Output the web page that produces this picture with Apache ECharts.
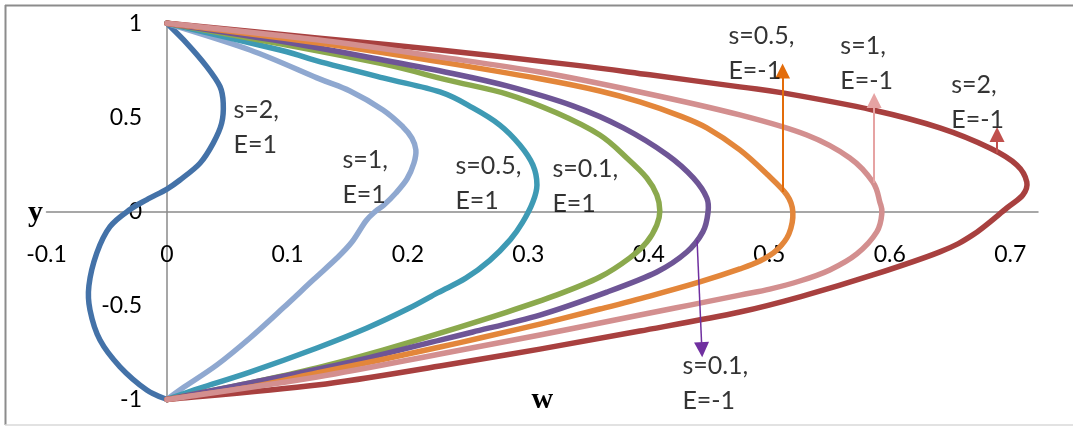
<!DOCTYPE html>
<html>
<head>
<meta charset="utf-8">
<script src="https://cdn.jsdelivr.net/npm/echarts@6/dist/echarts.min.js"></script>
<style>
  html, body { margin: 0; padding: 0; background: #ffffff; }
  #chart { width: 1074px; height: 427px; }
</style>
</head>
<body>
<div id="chart"></div>
<script>
// Velocity profiles w(y) across the channel, pairs of [w, y]
const s2_E1 = [
  [0, 1], [0.0163, 0.895], [0.033, 0.77], [0.044, 0.664], [0.0467, 0.576],
  [0.0454, 0.469], [0.0384, 0.363], [0.0274, 0.256], [0.0108, 0.167], [0, 0.119],
  [-0.0166, 0.063], [-0.0307, 0.010], [-0.0473, -0.081], [-0.0583, -0.222],
  [-0.0648, -0.395], [-0.0639, -0.524], [-0.0556, -0.684], [-0.039, -0.826],
  [-0.0168, -0.949], [0, -1]
];
const s1_E1 = [
  [0, 1], [0.0689, 0.858], [0.1245, 0.710], [0.1519, 0.640], [0.1793, 0.539],
  [0.1959, 0.449], [0.2033, 0.390], [0.2066, 0.327], [0.2050, 0.257], [0.1992, 0.172],
  [0.1900, 0.098], [0.1801, 0.034], [0.1734, 0.002], [0.1651, -0.051], [0.1535, -0.163],
  [0.1411, -0.248], [0.1212, -0.365], [0.0963, -0.514], [0.0689, -0.673],
  [0.0415, -0.816], [0.0133, -0.938], [0, -1]
];
const s05_E1 = [
  [0, 1], [0.0938, 0.858], [0.1245, 0.800], [0.1793, 0.710], [0.2266, 0.635],
  [0.2539, 0.550], [0.2763, 0.459], [0.2929, 0.353], [0.3037, 0.247], [0.3071, 0.141],
  [0.3037, 0.050], [0.2950, -0.060], [0.2850, -0.150], [0.2680, -0.260], [0.2480, -0.355],
  [0.2250, -0.432], [0.2000, -0.518], [0.1660, -0.620], [0.1245, -0.726],
  [0.0689, -0.854], [0.0274, -0.939], [0, -1]
];
const s01_E1 = [
  [0, 1], [0.0938, 0.891], [0.1793, 0.784], [0.2324, 0.699], [0.2822, 0.624],
  [0.3237, 0.523], [0.3593, 0.406], [0.3817, 0.284], [0.3983, 0.178], [0.4066, 0.087],
  [0.4091, 0.002], [0.4066, -0.072], [0.3983, -0.163], [0.3842, -0.247], [0.3593, -0.349],
  [0.3237, -0.444], [0.2822, -0.535], [0.2266, -0.647], [0.1793, -0.737],
  [0.1245, -0.832], [0.0689, -0.912], [0, -1]
];
const s01_Em1 = [
  [0, 1], [0.0938, 0.906], [0.1793, 0.805], [0.2349, 0.736], [0.2822, 0.667],
  [0.3369, 0.561], [0.3788, 0.444], [0.4154, 0.300], [0.4369, 0.178], [0.4481, 0.071],
  [0.4490, -0.009], [0.4448, -0.109], [0.4315, -0.216], [0.4066, -0.322], [0.3651, -0.429],
  [0.3095, -0.551], [0.2539, -0.641], [0.2266, -0.684], [0.1519, -0.801],
  [0.0689, -0.912], [0, -1]
];
const s05_Em1 = [
  [0, 1], [0.1245, 0.896], [0.2266, 0.795], [0.3095, 0.705], [0.3593, 0.640],
  [0.3925, 0.582], [0.4257, 0.508], [0.4481, 0.444], [0.4755, 0.327], [0.4979, 0.199],
  [0.5145, 0.088], [0.5195, -0.003], [0.5162, -0.120], [0.5062, -0.205], [0.4921, -0.264],
  [0.4755, -0.306], [0.4423, -0.375], [0.4008, -0.450], [0.3593, -0.519], [0.3095, -0.599],
  [0.2598, -0.673], [0.2266, -0.721], [0.1768, -0.790], [0.1245, -0.859], [0.0689, -0.934],
  [0, -1]
];
const s1_Em1 = [
  [0, 1], [0.1245, 0.912], [0.2266, 0.821], [0.3095, 0.741], [0.3925, 0.635],
  [0.4755, 0.513], [0.5311, 0.406], [0.5668, 0.284], [0.5859, 0.156], [0.5917, 0.050],
  [0.5934, -0.009], [0.5892, -0.109], [0.5726, -0.226], [0.5502, -0.311], [0.5253, -0.370],
  [0.5004, -0.413], [0.4755, -0.445], [0.4340, -0.498], [0.3925, -0.551], [0.3095, -0.657],
  [0.2266, -0.758], [0.1245, -0.880], [0, -1]
];
const s2_Em1 = [
  [0, 1], [0.1245, 0.922], [0.2266, 0.858], [0.3369, 0.779], [0.4008, 0.726],
  [0.4755, 0.662], [0.5112, 0.630], [0.5859, 0.539], [0.6415, 0.444], [0.6830, 0.337],
  [0.7054, 0.247], [0.7137, 0.156], [0.7104, 0.087], [0.6971, 0.018], [0.6689, -0.125],
  [0.6415, -0.215], [0.5859, -0.338], [0.5311, -0.444], [0.4755, -0.535],
  [0.3925, -0.636], [0.3095, -0.732], [0.2266, -0.822], [0.1245, -0.923], [0, -1]
];

// Curve labels: text and anchor [w, y] (left edge, vertical middle of the block)
const labelTexts = ['s=2,\nE=1', 's=1,\nE=1', 's=0.5,\nE=1', 's=0.1,\nE=1',
                    's=0.5,\nE=-1', 's=1,\nE=-1', 's=2,\nE=-1', 's=0.1,\nE=-1'];
const labelAnchors = [[0.0548, 0.444], [0.1452, 0.178], [0.239, 0.146], [0.3195, 0.135],
                      [0.4656, 0.840], [0.5585, 0.784], [0.6506, 0.577], [0.4274, -0.915]];

// Pointer arrows from a curve to its label: [from, to]
const arrowOrange = [[0.511, 0.103], [0.511, 0.747]];
const arrowPink   = [[0.587, 0.151], [0.587, 0.590]];
const arrowRed    = [[0.689, 0.311], [0.689, 0.409]];
const arrowPurple = [[0.440, -0.152], [0.444, -0.735]];

const wMin = -0.1, wMax = 0.723;
const yMin = -1, yMax = 1;

const FONT = 'Lato';

// Smooth (Catmull-Rom) path through the pixel positions of the points
function smoothPath(pts) {
  let d = 'M' + pts[0][0] + ' ' + pts[0][1];
  for (let i = 0; i < pts.length - 1; i++) {
    const p0 = pts[Math.max(i - 1, 0)];
    const p1 = pts[i];
    const p2 = pts[i + 1];
    const p3 = pts[Math.min(i + 2, pts.length - 1)];
    const c1x = p1[0] + (p2[0] - p0[0]) / 6, c1y = p1[1] + (p2[1] - p0[1]) / 6;
    const c2x = p2[0] - (p3[0] - p1[0]) / 6, c2y = p2[1] - (p3[1] - p1[1]) / 6;
    d += ' C' + c1x + ' ' + c1y + ' ' + c2x + ' ' + c2y + ' ' + p2[0] + ' ' + p2[1];
  }
  return d;
}

function curve(name, data, color) {
  return {
    name: name,
    type: 'custom',
    coordinateSystem: 'cartesian2d',
    data: data,
    encode: { x: 0, y: 1 },
    z: 3,
    silent: true,
    renderItem: function (params, api) {
      if (params.dataIndex !== 0) return null;
      const pts = data.map(p => api.coord(p));
      return {
        type: 'path',
        shape: { pathData: smoothPath(pts) },
        style: { stroke: color, lineWidth: 5.5, fill: null, lineJoin: 'round', lineCap: 'round' }
      };
    }
  };
}

function arrow(pts, color, width) {
  return [
    { coord: pts[0], lineStyle: { color: color, width: width, type: 'solid' } },
    { coord: pts[1] }
  ];
}

const chart = echarts.init(document.getElementById('chart'), null, { renderer: 'canvas' });

chart.setOption({
  animation: false,
  backgroundColor: '#ffffff',
  grid: { left: 46.5, right: 36, top: 23.3, bottom: 27.5, containLabel: false, outerBoundsMode: 'none' },
  xAxis: {
    type: 'value',
    min: wMin,
    max: wMax,
    interval: 0.1,
    name: 'w',
    nameLocation: 'middle',
    nameGap: 174,
    nameTextStyle: { fontFamily: 'Liberation Serif', fontWeight: 'bold', fontSize: 30, color: '#000' },
    axisLine: { onZero: false, lineStyle: { color: '#8a8a8a', width: 1.5 } },
    axisTick: { show: false },
    splitLine: { show: false },
    axisLabel: { fontFamily: FONT, fontSize: 23, color: '#000', margin: 32, showMaxLabel: false }
  },
  yAxis: {
    type: 'value',
    min: yMin,
    max: yMax,
    interval: 0.5,
    axisLine: { onZero: false, lineStyle: { color: '#8a8a8a', width: 1.5 } },
    axisTick: { show: false },
    splitLine: { show: false },
    axisLabel: { fontFamily: FONT, fontSize: 23, color: '#000', margin: 25 }
  },
  graphic: [
    { type: 'line', shape: { x1: 5, y1: 5.5, x2: 1073, y2: 5.5 }, style: { stroke: '#8c8c8c', lineWidth: 2 } },
    { type: 'line', shape: { x1: 5.5, y1: 5, x2: 5.5, y2: 425 }, style: { stroke: '#8c8c8c', lineWidth: 2 } },
    { type: 'line', shape: { x1: 5, y1: 425, x2: 1073, y2: 425 }, style: { stroke: '#d9d9d9', lineWidth: 1.5 } },
    {
      type: 'text', left: 28, top: 198, z: 10,
      style: { text: 'y', font: 'bold 30px "Liberation Serif"', fill: '#000' }
    }
  ],
  series: [
    curve('s=2, E=1', s2_E1, '#4472a8'),
    curve('s=1, E=1', s1_E1, '#8fa8d0'),
    curve('s=0.5, E=1', s05_E1, '#3e9ab4'),
    curve('s=0.1, E=1', s01_E1, '#8ba94d'),
    curve('s=0.1, E=-1', s01_Em1, '#6e5596'),
    curve('s=0.5, E=-1', s05_Em1, '#e3863a'),
    curve('s=2, E=-1', s2_Em1, '#a8403f'),
    curve('s=1, E=-1', s1_Em1, '#d38f8f'),
    {
      name: 'labels',
      type: 'scatter',
      symbolSize: 1,
      itemStyle: { color: 'rgba(0,0,0,0)' },
      z: 5,
      data: labelTexts.map((t, i) => ({ name: t, value: labelAnchors[i] })),
      label: {
        show: true,
        position: 'right',
        distance: 0,
        formatter: p => p.name,
        fontFamily: FONT,
        fontSize: 25,
        lineHeight: 35,
        color: '#000',
        align: 'left',
        verticalAlign: 'middle'
      },
      markLine: {
        silent: true,
        animation: false,
        symbol: ['none', 'triangle'],
        symbolSize: 15,
        label: { show: false },
        emphasis: { disabled: true },
        data: [
          arrow(arrowOrange, '#e36c0a', 2),
          arrow(arrowPink, '#e6a3a3', 2),
          arrow(arrowRed, '#c0504d', 2),
          arrow(arrowPurple, '#7030a0', 1.5)
        ]
      }
    }
  ]
});

// Move both axes (line, labels, name) through the origin of the data space
const origin = chart.convertToPixel({ gridIndex: 0 }, [0, 0]);
const corner = chart.convertToPixel({ gridIndex: 0 }, [wMin, yMin]);
chart.setOption({
  xAxis: { offset: origin[1] - corner[1] },
  yAxis: { offset: corner[0] - origin[0] }
});
</script>
</body>
</html>
